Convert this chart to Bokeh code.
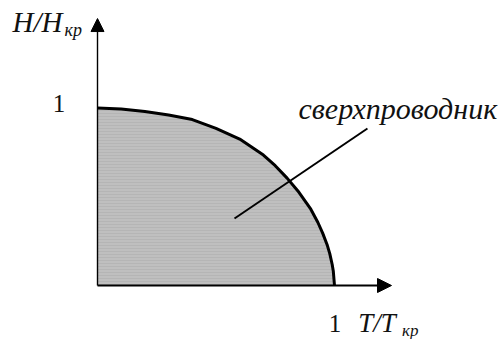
from bokeh.plotting import figure
from bokeh.models import Arrow, NormalHead, Label, ColumnDataSource
from bokeh.embed import file_html
from bokeh.resources import INLINE

# Critical-field curve (reduced units)
t_ratio = [0.0, 0.1, 0.2, 0.3, 0.4, 0.5, 0.6, 0.7, 0.75, 0.8, 0.85, 0.9, 0.93, 0.95, 0.97, 0.98, 0.99, 0.995, 1.0]
h_ratio = [1.0, 0.995, 0.98, 0.96, 0.935, 0.885, 0.825, 0.735, 0.675, 0.605, 0.525, 0.43, 0.355, 0.295, 0.225, 0.18, 0.12, 0.08, 0.0]
zero_line = [0.0] * len(t_ratio)

y_axis_label = "H/H"
y_axis_sub = "кр"
x_axis_label = "T/T"
x_axis_sub = "кр"
tick_one = "1"
region_label = "сверхпроводник"

src = ColumnDataSource(dict(t=t_ratio, h=h_ratio, z=zero_line))

p = figure(width=501, height=339, output_backend="svg", toolbar_location=None,
           x_range=(-0.4093, 1.7046), y_range=(-0.3042, 1.6056),
           min_border=0, min_border_left=0, min_border_right=0,
           min_border_top=0, min_border_bottom=0)
p.axis.visible = False
p.grid.visible = False
p.outline_line_color = None
p.background_fill_color = "white"
p.border_fill_color = "white"

# shaded superconducting region
p.varea(x="t", y1="z", y2="h", source=src, fill_color="#bfbfbf",
        hatch_pattern="horizontal_line", hatch_color="#a4a4a4",
        hatch_alpha=0.35, hatch_scale=3, hatch_weight=1)
p.line(x="t", y="h", source=src, line_color="black", line_width=3, line_join="round")

# axes with arrows
p.add_layout(Arrow(end=NormalHead(size=13, fill_color="black", line_color="black"),
                   x_start=0, y_start=0, x_end=0, y_end=1.504,
                   line_color="black", line_width=1.4))
p.add_layout(Arrow(end=NormalHead(size=14, fill_color="black", line_color="black"),
                   x_start=0, y_start=0, x_end=1.2405, y_end=0,
                   line_color="black", line_width=2))

# leader line
p.segment(x0=[0.578], y0=[0.3775], x1=[1.139], y1=[0.8845],
          line_color="black", line_width=2)

font = "'Liberation Serif', serif"

def lab(x, y, text, size, align="left", style="italic"):
    p.add_layout(Label(x=x, y=y, text=text, text_font=font,
                       text_font_size=f"{size}px", text_font_style=style,
                       text_align=align, text_baseline="alphabetic",
                       text_color="#111111"))

lab(-0.3586, 1.482, y_axis_label, 29)
lab(-0.139, 1.442, y_axis_sub, 18)
lab(-0.1624, 1.028, tick_one, 25, align="center", style="normal")
lab(0.848, 0.999, region_label, 30)
lab(1.002, -0.215, tick_one, 25, align="center", style="normal")
lab(1.10, -0.213, x_axis_label, 27)
lab(1.285, -0.255, x_axis_sub, 17)

open("out.html", "w").write(file_html(p, INLINE))
